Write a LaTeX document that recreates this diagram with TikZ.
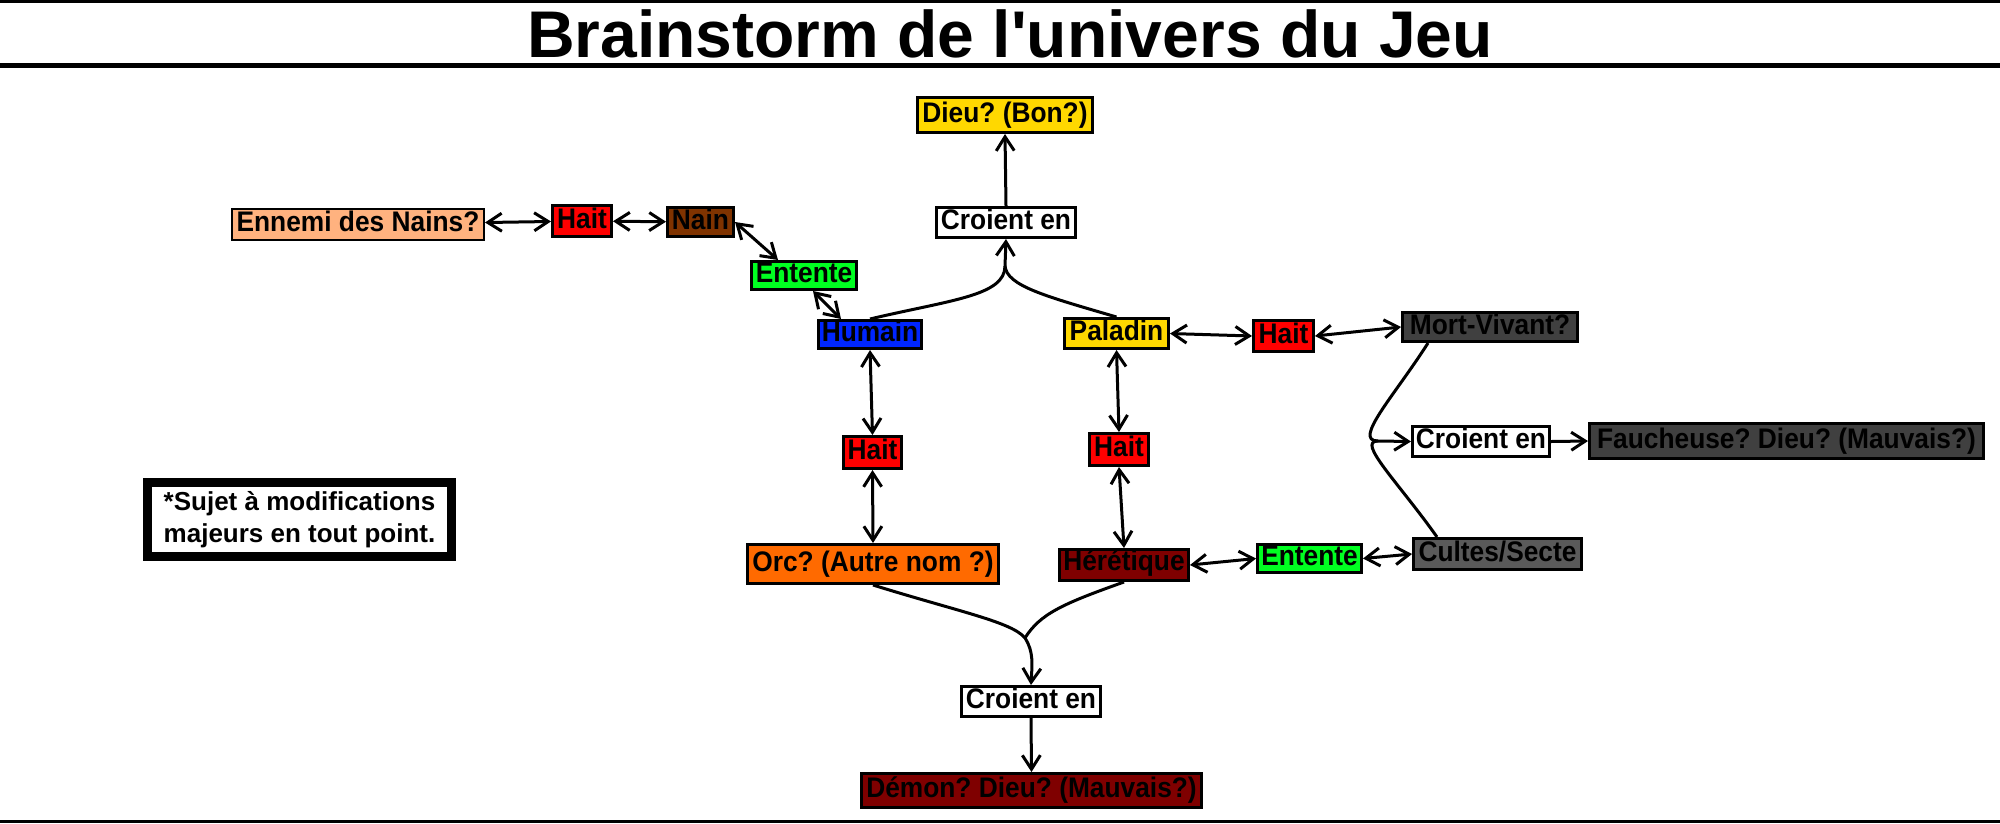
\documentclass[tikz,border=0pt]{standalone}
\usepackage{fontspec}
\newfontfamily\lsans{Liberation Sans}
\newfontfamily\nsans{Liberation Sans}[FakeStretch=0.93]
\usetikzlibrary{arrows.meta,calc}
\definecolor{cPeach}{HTML}{FFB27F}
\definecolor{cRed}{HTML}{FF0000}
\definecolor{cBrown}{HTML}{7F3300}
\definecolor{cGreen}{HTML}{00FF21}
\definecolor{cBlue}{HTML}{0026FF}
\definecolor{cGold}{HTML}{FFD800}
\definecolor{cDark}{HTML}{404040}
\definecolor{cGrey}{HTML}{5A5A5A}
\definecolor{cOrange}{HTML}{FF6A00}
\definecolor{cMaroon}{HTML}{7F0000}
\frenchspacing
\begin{document}
\begin{tikzpicture}[x=1pt,y=-1pt,
  bx/.style={draw, line width=3pt, inner sep=0pt, font=\nsans\bfseries\fontsize{28.3pt}{32pt}\selectfont, text height=20pt, text depth=6pt},
  ln/.style={line width=3pt, line join=round},
  ar/.style={ln, -{Straight Barb[length=14pt,width=18pt]}},
  dar/.style={ln, {Straight Barb[length=14pt,width=18pt]}-{Straight Barb[length=14pt,width=18pt]}}]
\fill[white] (0,0) rectangle (2000,823);
\useasboundingbox (0,0) rectangle (2000,823);
% title rules
\draw[line width=3pt] (0,1.5) -- (2000,1.5);
\draw[line width=4.5pt] (0,65.5) -- (2000,65.5);
\draw[line width=3pt] (0,821.5) -- (2000,821.5);
\node[anchor=base, inner sep=0pt, font=\lsans\bfseries\fontsize{66pt}{70pt}\selectfont] (title) at (1010,57) {Brainstorm de l'univers du Jeu};
% nodes
\node[bx, line width=2pt, fill=cPeach, minimum width=252pt, minimum height=31pt] (ennemi) at (358,224.5) {Ennemi des Nains?};
\node[bx, fill=cRed, minimum width=59pt, minimum height=31pt] (hait1) at (582,221) {Hait};
\node[bx, fill=cBrown, minimum width=66pt, minimum height=29pt] (nain) at (700.5,222) {Nain};
\node[bx, fill=cGreen, minimum width=105pt, minimum height=28pt] (entente1) at (804,275.5) {Entente};
\node[bx, fill=cBlue, minimum width=103pt, minimum height=28pt] (humain) at (870,334.5) {Humain};
\node[bx, fill=cGold, minimum width=175pt, minimum height=35pt] (dieu) at (1005,115) {Dieu? (Bon?)};
\node[bx, fill=white, minimum width=139pt, minimum height=30pt] (croient1) at (1006,222.5) {Croient en};
\node[bx, fill=cGold, minimum width=104pt, minimum height=30pt] (paladin) at (1116.5,333.5) {Paladin};
\node[bx, fill=cRed, minimum width=60pt, minimum height=31pt] (hait2) at (1283.5,336) {Hait};
\node[bx, fill=cDark, minimum width=175pt, minimum height=29pt] (mort) at (1490,327) {Mort-Vivant?};
\node[bx, fill=white, minimum width=137pt, minimum height=30pt] (croient2) at (1481,441.5) {Croient en};
\node[bx, fill=cDark, minimum width=394pt, minimum height=35pt] (faucheuse) at (1786.5,441) {Faucheuse? Dieu? (Mauvais?)};
\node[bx, fill=cGrey, minimum width=168pt, minimum height=31pt] (cultes) at (1497.5,554) {Cultes/Secte};
\node[bx, fill=cRed, minimum width=58pt, minimum height=32pt] (hait3) at (872.5,452.5) {Hait};
\node[bx, fill=cRed, minimum width=59pt, minimum height=32pt] (hait4) at (1119,449.5) {Hait};
\node[bx, fill=cOrange, minimum width=251pt, minimum height=39pt] (orc) at (873,564) {Orc? (Autre nom ?)};
\node[bx, fill=cMaroon, minimum width=129pt, minimum height=31pt, text height=18pt, text depth=8pt] (heretique) at (1124,565) {Hérétique};
\node[bx, fill=cGreen, minimum width=104pt, minimum height=28pt] (entente2) at (1309.5,558.5) {Entente};
\node[bx, fill=white, minimum width=139pt, minimum height=30pt] (croient3) at (1031,701.5) {Croient en};
\node[bx, fill=cMaroon, minimum width=340pt, minimum height=34pt] (demon) at (1031.5,790.5) {Démon? Dieu? (Mauvais?)};
\node[draw, line width=9pt, fill=white, minimum width=304pt, minimum height=74pt, inner sep=0pt, align=center, font=\lsans\bfseries\fontsize{26pt}{31.5pt}\selectfont] (note) at (299.5,519.5) {*Sujet à modifications\\majeurs en tout point.};
% junctions
\coordinate (j1) at (1005,266);
\coordinate (j2) at (1025,638);
\coordinate (j3) at (1378,441);
% connectors
\draw[dar] (ennemi) -- (hait1);
\draw[dar] (hait1) -- (nain);
\draw[dar] (nain.east) -- ($(entente1.north)+(-26,0)$);
\draw[dar] ($(entente1.south)+(9,0)$) -- ($(humain.north)+(-29,0)$);
\draw[dar] (humain.south) -- (hait3.north);
\draw[dar] (hait3.south) -- (orc.north);
\draw[dar] (paladin.south) -- (hait4.north);
\draw[dar] (hait4.south) -- (heretique.north);
\draw[dar] (paladin.east) -- (hait2.west);
\draw[dar] (hait2.east) -- (mort.west);
\draw[dar] (heretique.east) -- (entente2.west);
\draw[dar] (entente2.east) -- (cultes.west);
\draw[ar] (croient1.north) -- (dieu.south);
\draw[ar] (croient2.east) -- (faucheuse.west);
\draw[ar] (croient3.south) -- (demon.north);
\draw[ar] (humain.north) .. controls (950,300) and (1005,296) .. (j1) -- (croient1.south);
\draw[ln] (paladin.north) .. controls (1045,296) and (1007,286) .. (j1);
\draw[ar] (orc.south) .. controls (960,612) and (1012,622) .. (j2) .. controls (1034,652) and (1032,665) .. (croient3.north);
\draw[ln] (heretique.south) .. controls (1062,604) and (1040,614) .. (j2);
\draw[ar] ($(mort.south west)+(27,0)$) .. controls (1395,395) and (1352,441) .. (j3) -- (croient2.west);
\draw[ln] ($(cultes.north west)+(25,0)$) .. controls (1398,482) and (1356,441) .. (j3);
\end{tikzpicture}
\end{document}
